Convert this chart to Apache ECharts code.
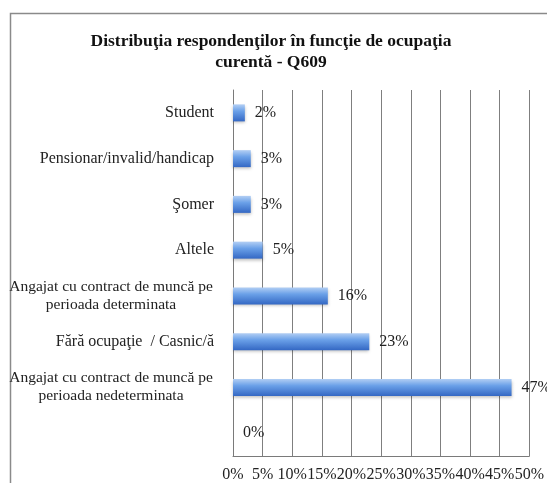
<!DOCTYPE html>
<html>
<head>
<meta charset="utf-8">
<script src="https://cdn.jsdelivr.net/npm/echarts@6/dist/echarts.min.js"></script>
<style>
  html, body { margin: 0; padding: 0; background: #fff; }
  #chart { width: 547px; height: 483px; }
</style>
</head>
<body>
<div id="chart"></div>
<script>
const categories = [
  'Student',
  'Pensionar/invalid/handicap',
  'Şomer',
  'Altele',
  'Angajat cu contract de muncă pe\nperioada determinata',
  'Fără ocupaţie  / Casnic/ă',
  'Angajat cu contract de muncă pe\nperioada nedeterminata',
  ''
]
const values = [2, 3, 3, 5, 16, 23, 47, 0]
const xTicks = [0, 50, 5] // min, max, step (%)

const serif = 'Liberation Serif'
const chart = echarts.init(document.getElementById('chart'))

chart.setOption({
  backgroundColor: '#fff',
  animation: false,
  title: {
    text: 'Distribuţia respondenţilor în funcţie de ocupaţia\ncurentă - Q609',
    left: 266,
    top: 26,
    textAlign: 'center',
    textStyle: {
      fontFamily: serif,
      fontWeight: 'bold',
      fontSize: 17.5,
      lineHeight: 21,
      color: '#111'
    }
  },
  graphic: [
    {
      // chart frame
      type: 'rect',
      left: 8,
      top: 11,
      shape: { width: 600, height: 600 },
      style: { fill: 'none', stroke: '#8a8a8a', lineWidth: 1.5 },
      silent: true
    }
  ],
  grid: {
    left: 233,
    right: 17,
    top: 90,
    bottom: 26
  },
  xAxis: {
    type: 'value',
    min: xTicks[0],
    max: xTicks[1],
    interval: xTicks[2],
    axisLine: { show: true, lineStyle: { color: '#7a7a7a' } },
    axisTick: { show: false },
    splitLine: { show: true, lineStyle: { color: '#7f7f7f', width: 1 } },
    axisLabel: {
      formatter: '{value}%',
      fontFamily: serif,
      fontSize: 16,
      color: '#222',
      margin: 11
    }
  },
  yAxis: {
    type: 'category',
    inverse: true,
    data: categories,
    axisLine: { show: true, lineStyle: { color: '#7a7a7a' } },
    axisTick: { show: false },
    axisLabel: {
      fontFamily: serif,
      fontSize: 16,
      color: '#222',
      margin: 19,
      lineHeight: 18,
      formatter: function (name) {
        if (name.indexOf('\n') < 0) return name
        return name.split('\n').map(function (s) { return '{w|' + s + '}' }).join('\n')
      },
      rich: {
        w: { width: 206, align: 'center', fontFamily: serif, fontSize: 15.5, color: '#222', lineHeight: 18 }
      }
    }
  },
  series: [
    {
      type: 'bar',
      data: values,
      barWidth: 17,
      itemStyle: {
        color: new echarts.graphic.LinearGradient(0, 0, 0, 1, [
          { offset: 0, color: '#b3cff4' },
          { offset: 0.4, color: '#6aa0e8' },
          { offset: 1, color: '#3468c4' }
        ]),
        shadowColor: 'rgba(0,0,0,0.25)',
        shadowBlur: 3,
        shadowOffsetY: 2
      },
      label: {
        show: true,
        position: 'right',
        distance: 10,
        formatter: '{c}%',
        fontFamily: serif,
        fontSize: 16,
        color: '#222'
      }
    }
  ]
})
</script>
</body>
</html>
